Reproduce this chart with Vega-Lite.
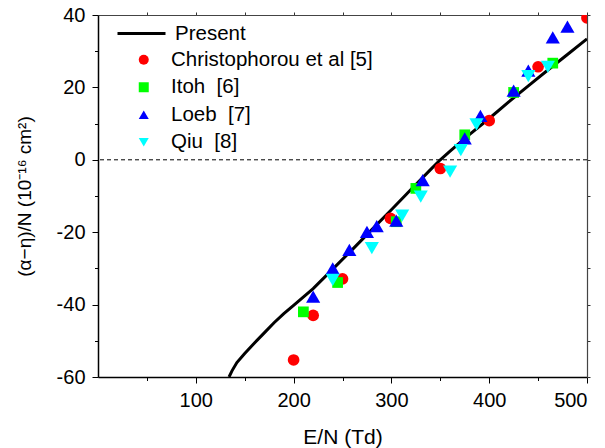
{
  "$schema": "https://vega.github.io/schema/vega-lite/v6.json",
  "width": 489,
  "height": 362,
  "autosize": {"type": "none"},
  "padding": {"left": 98, "top": 15, "right": 18, "bottom": 71},
  "background": "white",
  "config": {"view": {"stroke": null}, "font": "Liberation Sans"},
  "data": {"values": [
    {"series": "Present", "x": 134, "y": -60},
    {"series": "Present", "x": 137, "y": -58.3},
    {"series": "Present", "x": 142, "y": -56},
    {"series": "Present", "x": 150, "y": -53.5},
    {"series": "Present", "x": 160, "y": -50.6},
    {"series": "Present", "x": 170, "y": -47.8},
    {"series": "Present", "x": 180, "y": -45},
    {"series": "Present", "x": 190, "y": -42.5},
    {"series": "Present", "x": 200, "y": -40.2},
    {"series": "Present", "x": 220, "y": -35.6},
    {"series": "Present", "x": 240, "y": -30.2},
    {"series": "Present", "x": 260, "y": -24.8},
    {"series": "Present", "x": 280, "y": -19.3},
    {"series": "Present", "x": 300, "y": -13.8},
    {"series": "Present", "x": 320, "y": -8.2},
    {"series": "Present", "x": 340, "y": -2.7},
    {"series": "Present", "x": 350, "y": 0},
    {"series": "Present", "x": 360, "y": 2.4},
    {"series": "Present", "x": 380, "y": 7.0},
    {"series": "Present", "x": 400, "y": 11.4},
    {"series": "Present", "x": 420, "y": 16.0},
    {"series": "Present", "x": 440, "y": 20.4},
    {"series": "Present", "x": 460, "y": 24.8},
    {"series": "Present", "x": 480, "y": 29.1},
    {"series": "Present", "x": 500, "y": 33.4},
    {"series": "Christophorou et al [5]", "x": 200, "y": -55.3},
    {"series": "Christophorou et al [5]", "x": 220, "y": -43},
    {"series": "Christophorou et al [5]", "x": 250, "y": -32.9},
    {"series": "Christophorou et al [5]", "x": 299, "y": -16.2},
    {"series": "Christophorou et al [5]", "x": 350, "y": -2.4},
    {"series": "Christophorou et al [5]", "x": 400, "y": 10.8},
    {"series": "Christophorou et al [5]", "x": 450, "y": 25.7},
    {"series": "Christophorou et al [5]", "x": 500, "y": 39.2},
    {"series": "Itoh\u00a0 [6]", "x": 210, "y": -42},
    {"series": "Itoh\u00a0 [6]", "x": 245, "y": -33.9},
    {"series": "Itoh\u00a0 [6]", "x": 305, "y": -17.1},
    {"series": "Itoh\u00a0 [6]", "x": 325, "y": -7.9},
    {"series": "Itoh\u00a0 [6]", "x": 375, "y": 6.9},
    {"series": "Itoh\u00a0 [6]", "x": 425, "y": 18.6},
    {"series": "Itoh\u00a0 [6]", "x": 465, "y": 26.7},
    {"series": "Loeb\u00a0 [7]", "x": 220, "y": -37.8},
    {"series": "Loeb\u00a0 [7]", "x": 240, "y": -30},
    {"series": "Loeb\u00a0 [7]", "x": 257, "y": -24.9},
    {"series": "Loeb\u00a0 [7]", "x": 275, "y": -19.9},
    {"series": "Loeb\u00a0 [7]", "x": 285, "y": -18.3},
    {"series": "Loeb\u00a0 [7]", "x": 305, "y": -16.8},
    {"series": "Loeb\u00a0 [7]", "x": 332, "y": -5.6},
    {"series": "Loeb\u00a0 [7]", "x": 375, "y": 5.9},
    {"series": "Loeb\u00a0 [7]", "x": 391, "y": 12.1},
    {"series": "Loeb\u00a0 [7]", "x": 425, "y": 19.1},
    {"series": "Loeb\u00a0 [7]", "x": 440, "y": 24.6},
    {"series": "Loeb\u00a0 [7]", "x": 465, "y": 33.8},
    {"series": "Loeb\u00a0 [7]", "x": 480, "y": 36.8},
    {"series": "Qiu\u00a0 [8]", "x": 240, "y": -33.2},
    {"series": "Qiu\u00a0 [8]", "x": 280, "y": -24.4},
    {"series": "Qiu\u00a0 [8]", "x": 311, "y": -15.4},
    {"series": "Qiu\u00a0 [8]", "x": 330, "y": -10.2},
    {"series": "Qiu\u00a0 [8]", "x": 360, "y": -3.3},
    {"series": "Qiu\u00a0 [8]", "x": 371, "y": 2.7},
    {"series": "Qiu\u00a0 [8]", "x": 387, "y": 9.8},
    {"series": "Qiu\u00a0 [8]", "x": 440, "y": 23.1},
    {"series": "Qiu\u00a0 [8]", "x": 460, "y": 25.7}
  ]},
  "layer": [
    {
      "data": {"values": [{}]},
      "mark": {"type": "rule", "color": "black", "strokeWidth": 1, "strokeDash": [4, 3]},
      "encoding": {
        "y": {"datum": 0, "type": "quantitative", "scale": {"domain": [-60, 40], "nice": false, "zero": false}, "axis": null}
      }
    },
    {
      "transform": [{"filter": "datum.series === 'Present'"}],
      "mark": {"type": "line", "strokeWidth": 3, "clip": true},
      "encoding": {
        "x": {"field": "x", "type": "quantitative", "scale": {"domain": [0, 500], "nice": false, "zero": false},
          "axis": {"orient": "bottom", "values": [50, 100, 150, 200, 250, 300, 350, 400, 450, 500],
            "labelExpr": "datum.value % 100 === 0 ? '' + datum.value : ''",
            "tickSize": {"condition": {"test": "datum.value % 100 === 0", "value": 6}, "value": 3.5},
            "tickColor": "black", "tickWidth": 1, "domainColor": "black", "domainWidth": 1.5,
            "labelFontSize": 20, "labelColor": "black", "labelPadding": 7, "labelFont": "Liberation Sans",
            "grid": false, "title": "E/N (Td)", "titleFontSize": 21, "titleFontWeight": "normal", "titleColor": "black",
            "titleFont": "Liberation Sans", "titleBaseline": "alphabetic", "titleY": 66}},
        "y": {"field": "y", "type": "quantitative", "scale": {"domain": [-60, 40], "nice": false, "zero": false},
          "axis": {"orient": "left", "values": [-60, -50, -40, -30, -20, -10, 0, 10, 20, 30, 40],
            "labelExpr": "datum.value % 20 === 0 ? '' + datum.value : ''",
            "tickSize": {"condition": {"test": "datum.value % 20 === 0", "value": 6}, "value": 3.5},
            "tickColor": "black", "tickWidth": 1, "domainColor": "black", "domainWidth": 1.5,
            "labelFontSize": 20, "labelColor": "black", "labelPadding": 7, "labelFont": "Liberation Sans",
            "grid": false, "title": "(α−η)/N (10⁻¹⁶ cm²)", "titleFontSize": 19, "titleFontWeight": "normal", "titleColor": "black",
            "titleFont": "Liberation Sans", "titleBaseline": "alphabetic", "titleX": -68}},
        "color": {"field": "series", "type": "nominal", "scale": {"domain": ["Present"], "range": ["black"]},
          "legend": {"orient": "none", "legendX": 18, "legendY": -7, "title": null, "symbolType": "stroke",
            "symbolSize": 2304, "symbolStrokeWidth": 3, "labelFontSize": 20.5, "labelFont": "Liberation Sans",
            "labelColor": "black", "labelOffset": 8, "padding": 0, "labelLimit": 0}}
      }
    },
    {
      "transform": [{"filter": "datum.series === 'Christophorou et al [5]'"}],
      "mark": {"type": "point", "filled": true, "opacity": 1, "clip": true, "strokeWidth": 0, "size": 137},
      "encoding": {
        "x": {"field": "x", "type": "quantitative", "scale": {"domain": [0, 500], "nice": false, "zero": false},
          "axis": {"orient": "top", "values": [50, 100, 150, 200, 250, 300, 350, 400, 450, 500], "labels": false,
            "tickSize": 3, "tickColor": "#333", "domainColor": "#444", "domainWidth": 1.2, "grid": false, "title": null}},
        "y": {"field": "y", "type": "quantitative", "scale": {"domain": [-60, 40], "nice": false, "zero": false},
          "axis": {"orient": "right", "values": [-60, -50, -40, -30, -20, -10, 0, 10, 20, 30, 40], "labels": false,
            "tickSize": 3, "tickColor": "#333", "domainColor": "#444", "domainWidth": 1.2, "grid": false, "title": null}},
        "fill": {"field": "series", "type": "nominal",
          "scale": {"domain": ["Christophorou et al [5]", "Itoh\u00a0 [6]", "Loeb\u00a0 [7]", "Qiu\u00a0 [8]"], "range": ["#ff0000", "#00ff00", "#0000ff", "#00ffff"]},
          "legend": {"orient": "none", "legendX": 35.5, "legendY": 34.5, "title": null, "symbolSize": 100,
            "labelFontSize": 20.5, "labelFont": "Liberation Sans", "labelColor": "black", "labelOffset": 17,
            "rowPadding": 6.5, "padding": 0, "symbolStrokeWidth": 0, "labelLimit": 0}},
        "shape": {"field": "series", "type": "nominal",
          "scale": {"domain": ["Christophorou et al [5]", "Itoh\u00a0 [6]", "Loeb\u00a0 [7]", "Qiu\u00a0 [8]"], "range": ["circle", "square", "triangle-up", "triangle-down"]},
          "legend": {"orient": "none", "legendX": 35.5, "legendY": 34.5, "title": null, "symbolSize": 100,
            "labelFontSize": 20.5, "labelFont": "Liberation Sans", "labelColor": "black", "labelOffset": 17,
            "rowPadding": 6.5, "padding": 0, "symbolStrokeWidth": 0, "labelLimit": 0}}
      }
    },
    {
      "transform": [{"filter": "datum.series === 'Itoh\u00a0 [6]'"}],
      "mark": {"type": "point", "filled": true, "opacity": 1, "clip": true, "strokeWidth": 0, "size": 115},
      "encoding": {
        "x": {"field": "x", "type": "quantitative", "axis": null},
        "y": {"field": "y", "type": "quantitative", "axis": null},
        "fill": {"field": "series", "type": "nominal"},
        "shape": {"field": "series", "type": "nominal"}
      }
    },
    {
      "transform": [{"filter": "datum.series === 'Loeb\u00a0 [7]'"}],
      "mark": {"type": "point", "filled": true, "opacity": 1, "clip": true, "strokeWidth": 0, "size": 200},
      "encoding": {
        "x": {"field": "x", "type": "quantitative", "axis": null},
        "y": {"field": "y", "type": "quantitative", "axis": null},
        "fill": {"field": "series", "type": "nominal"},
        "shape": {"field": "series", "type": "nominal"}
      }
    },
    {
      "transform": [{"filter": "datum.series === 'Qiu\u00a0 [8]'"}],
      "mark": {"type": "point", "filled": true, "opacity": 1, "clip": true, "strokeWidth": 0, "size": 200},
      "encoding": {
        "x": {"field": "x", "type": "quantitative", "axis": null},
        "y": {"field": "y", "type": "quantitative", "axis": null},
        "fill": {"field": "series", "type": "nominal"},
        "shape": {"field": "series", "type": "nominal"}
      }
    }
  ],
  "resolve": {"axis": {"x": "independent", "y": "independent"}}
}
